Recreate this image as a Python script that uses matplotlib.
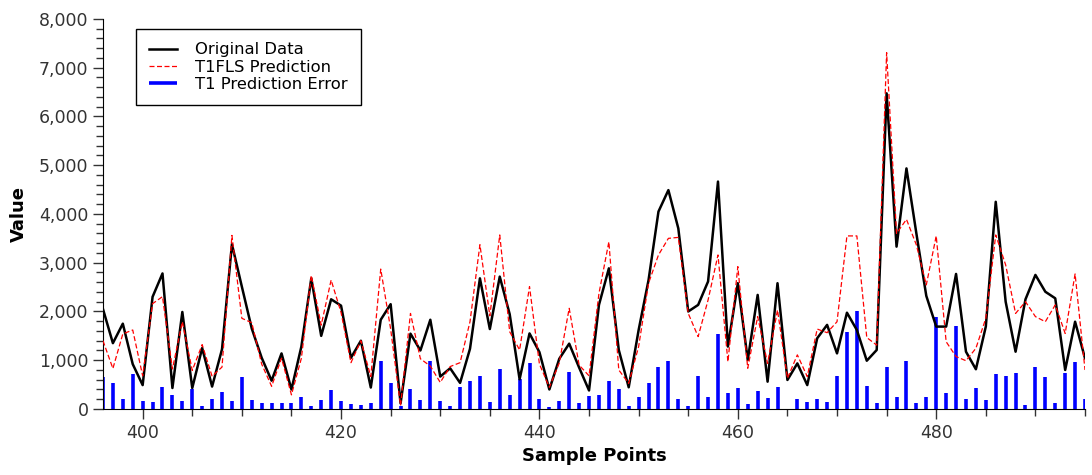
import numpy as np
import matplotlib
matplotlib.use("Agg")
import matplotlib.pyplot as plt
from matplotlib.ticker import MultipleLocator, FuncFormatter

# --- datos (puntos 396..495) ---
sample_points = list(range(396, 496))

original = [
    2050, 1350, 1750, 920, 490, 2300, 2780, 430, 1990, 430,
    1250, 460, 1225, 3380, 2510, 1650, 1050, 580, 1140, 400,
    1280, 2680, 1500, 2250, 2120, 1050, 1400, 440, 1830, 2150,
    115, 1545, 1200, 1830, 665, 835, 535, 1235, 2680, 1640,
    2715, 1945, 610, 1550, 1165, 400, 1030, 1340, 850, 380,
    2135, 2885, 1210, 445, 1620, 2645, 4050, 4490, 3705, 2000,
    2135, 2615, 4665, 1280, 2580, 1005, 2340, 560, 2580, 595,
    935, 490, 1450, 1725, 1140, 1975, 1620, 990, 1210, 6475,
    3330, 4935, 3600, 2320, 1690, 1690, 2770, 1175, 815, 1690,
    4250, 2200, 1175, 2250, 2750, 2405, 2270, 800, 1790, 1040,
]

t1fls_pred = [
    1400, 830, 1540, 1620, 680, 2160, 2305, 820, 1790, 790,
    1320, 670, 860, 3560, 1860, 1770, 920, 465, 1040, 290,
    1040, 2740, 1720, 2645, 1980, 950, 1400, 665, 2870, 1640,
    70, 1960, 1030, 880, 545, 870, 950, 1790, 3370, 1910,
    3570, 1585, 1210, 2510, 920, 445, 945, 2065, 900, 680,
    2370, 3430, 800, 525, 1280, 2580, 3160, 3500, 3520, 1960,
    1485, 2235, 3160, 970, 2920, 835, 1895, 935, 2030, 630,
    1110, 665, 1640, 1565, 1790, 3550, 3550, 1465, 1310, 7310,
    3600, 3890, 3365, 2545, 3550, 1380, 1075, 990, 1245, 1860,
    3570, 2955, 1960, 2200, 1895, 1790, 2135, 1550, 2770, 800,
]

t1_error = [
    650, 530, 210, 720, 160, 135, 460, 285, 160, 415,
    60, 210, 355, 160, 650, 185, 115, 115, 115, 115,
    250, 60, 185, 390, 160, 100, 75, 130, 990, 525,
    60, 405, 185, 990, 160, 60, 450, 580, 675, 135,
    820, 290, 610, 950, 210, 40, 160, 750, 115, 260,
    290, 580, 410, 60, 240, 525, 870, 990, 205, 60,
    675, 250, 1540, 335, 425, 100, 375, 230, 445, 0,
    205, 150, 205, 150, 675, 1580, 2000, 470, 130, 870,
    240, 990, 130, 240, 1895, 320, 1700, 200, 425, 185,
    720, 675, 745, 80, 870, 650, 130, 730, 970, 200,
]

fig = plt.figure(figsize=(10.92, 4.75), dpi=100)
ax = fig.add_axes([0.0943, 0.139, 0.8993, 0.821])

bars = ax.vlines(sample_points, 0, t1_error, colors="blue", linewidth=2.6,
                 label="T1 Prediction Error", zorder=1)
l_orig, = ax.plot(sample_points, original, color="black", linewidth=1.8,
                  label="Original Data", zorder=2)
l_pred, = ax.plot(sample_points, t1fls_pred, color="red", linewidth=0.9,
                  linestyle="--", dashes=(4, 2), label="T1FLS Prediction", zorder=3)

ax.set_xlim(396, 495)
ax.set_ylim(0, 8000)

ax.xaxis.set_major_locator(MultipleLocator(20))
ax.xaxis.set_minor_locator(MultipleLocator(5))
ax.yaxis.set_major_locator(MultipleLocator(1000))
ax.yaxis.set_minor_locator(MultipleLocator(200))
ax.yaxis.set_major_formatter(FuncFormatter(lambda v, p: f"{int(v):,}"))

ax.tick_params(which="major", direction="out", length=7, width=1,
               labelsize=12.5, labelcolor="#333333", color="#333333")
ax.tick_params(which="minor", direction="out", length=5, width=1, color="#333333")

for s in ["top", "right"]:
    ax.spines[s].set_visible(False)

ax.set_xlabel("Sample Points", fontsize=13, fontweight="bold", labelpad=4)
ax.set_ylabel("Value", fontsize=13, fontweight="bold", labelpad=8)

leg = ax.legend(handles=[l_orig, l_pred, bars], loc="upper left",
                bbox_to_anchor=(0.0336, 0.974), borderaxespad=0,
                fontsize=11.8, fancybox=False,
                framealpha=1, edgecolor="black", handlelength=1.7,
                handletextpad=1.1, borderpad=0.8, labelspacing=0.15)
leg.get_frame().set_linewidth(1)

fig.savefig("out.png", dpi=100)
